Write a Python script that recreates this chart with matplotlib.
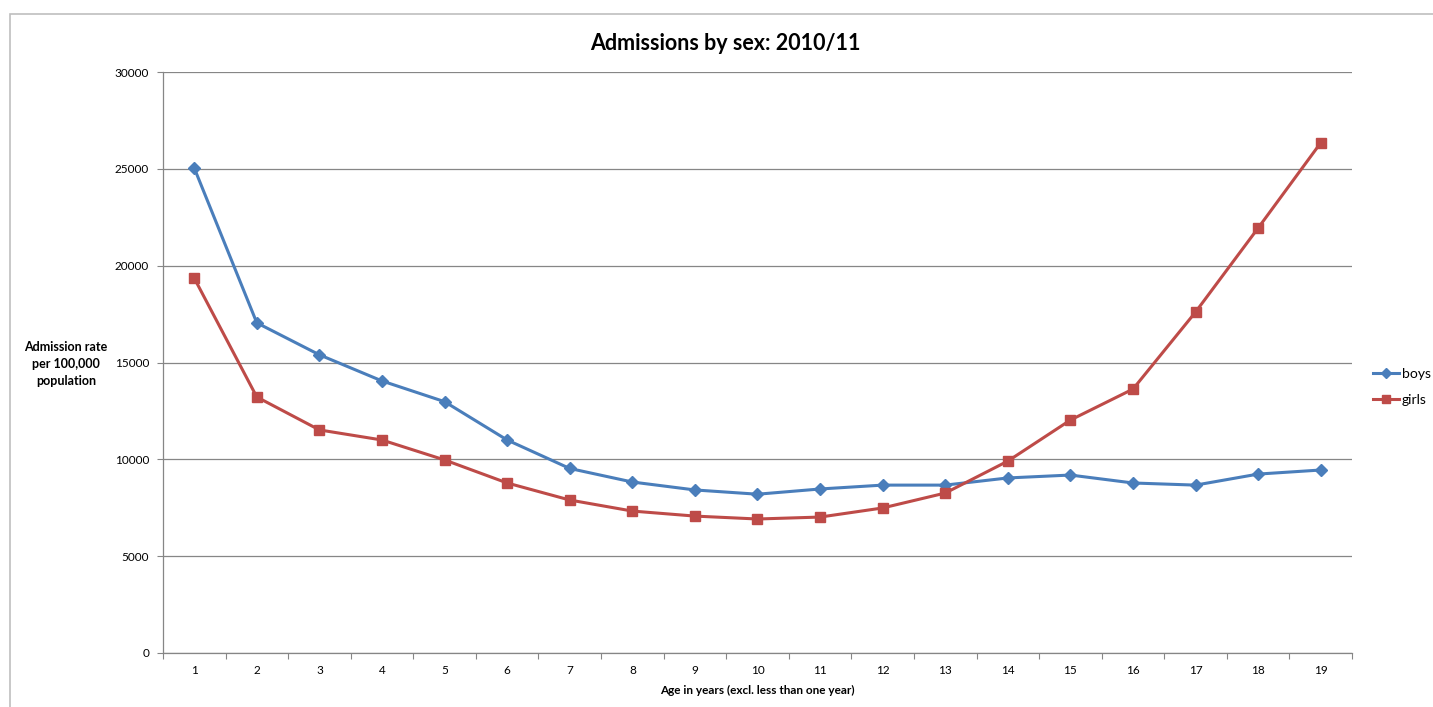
import matplotlib.pyplot as plt
import numpy as np

plt.rcParams['font.family'] = ['Lato', 'DejaVu Sans']

ages = list(range(1, 20))
boys = [25050, 17050, 15400, 14050, 12980, 11000, 9530, 8830, 8420, 8200,
        8470, 8670, 8670, 9040, 9190, 8780, 8670, 9240, 9450]
girls = [19360, 13220, 11520, 11000, 9970, 8780, 7900, 7330, 7070, 6920,
         7020, 7490, 8260, 9910, 12030, 13630, 17610, 21950, 26350]
yticks = [0, 5000, 10000, 15000, 20000, 25000, 30000]

blue = '#4A7EBB'
red = '#BE4B48'
grid_col = '#868686'

fig = plt.figure(figsize=(14.33, 7.07), dpi=100)
ax = fig.add_axes([0.1137, 0.0764, 0.8298, 0.8216])

ax.plot(ages, boys, color=blue, lw=2.2, marker='D', markersize=6, label='boys')
ax.plot(ages, girls, color=red, lw=2.2, marker='s', markersize=7, label='girls')

ax.set_xlim(0.5, 19.5)
ax.set_ylim(0, 30000)
ax.set_yticks(yticks)
ax.set_yticklabels([str(v) for v in yticks], fontsize=8.5)
ax.yaxis.grid(True, color=grid_col, lw=0.9)
ax.set_axisbelow(True)

# category ticks on bin boundaries, labels in the middle
ax.set_xticks(np.arange(0.5, 20, 1))
ax.set_xticklabels([])
ax.set_xticks(ages, minor=True)
ax.set_xticklabels([str(a) for a in ages], minor=True, fontsize=8.5)
ax.tick_params(axis='x', which='minor', length=0, pad=9)
ax.tick_params(axis='x', which='major', length=4, color=grid_col)
ax.tick_params(axis='y', length=4, color=grid_col, pad=6)

for s in ['top', 'right']:
    ax.spines[s].set_visible(False)
for s in ['left', 'bottom']:
    ax.spines[s].set_color(grid_col)
    ax.spines[s].set_linewidth(0.9)

# title centred on the whole chart area, like Excel
fig.text(0.506, 0.939, 'Admissions by sex: 2010/11', ha='center', va='center',
         fontsize=15.5, fontweight='bold')
ax.set_xlabel('Age in years (excl. less than one year)', fontsize=8.5,
              fontweight='bold', labelpad=6)
fig.text(0.046, 0.485, 'Admission rate\nper 100,000\npopulation', ha='center',
         va='center', fontsize=9, fontweight='bold', linespacing=1.5)

ax.legend(loc='center left', bbox_to_anchor=(1.007, 0.458), frameon=False,
          fontsize=10, handlelength=1.9, handletextpad=0.2, labelspacing=1.0,
          markerscale=0.8)

# outer chart border
fig.add_artist(plt.Rectangle((0.007, -0.01), 1.2, 0.99, transform=fig.transFigure,
                             fill=False, edgecolor='#BFBFBF', lw=1.2))

fig.savefig('out.png', dpi=100)
